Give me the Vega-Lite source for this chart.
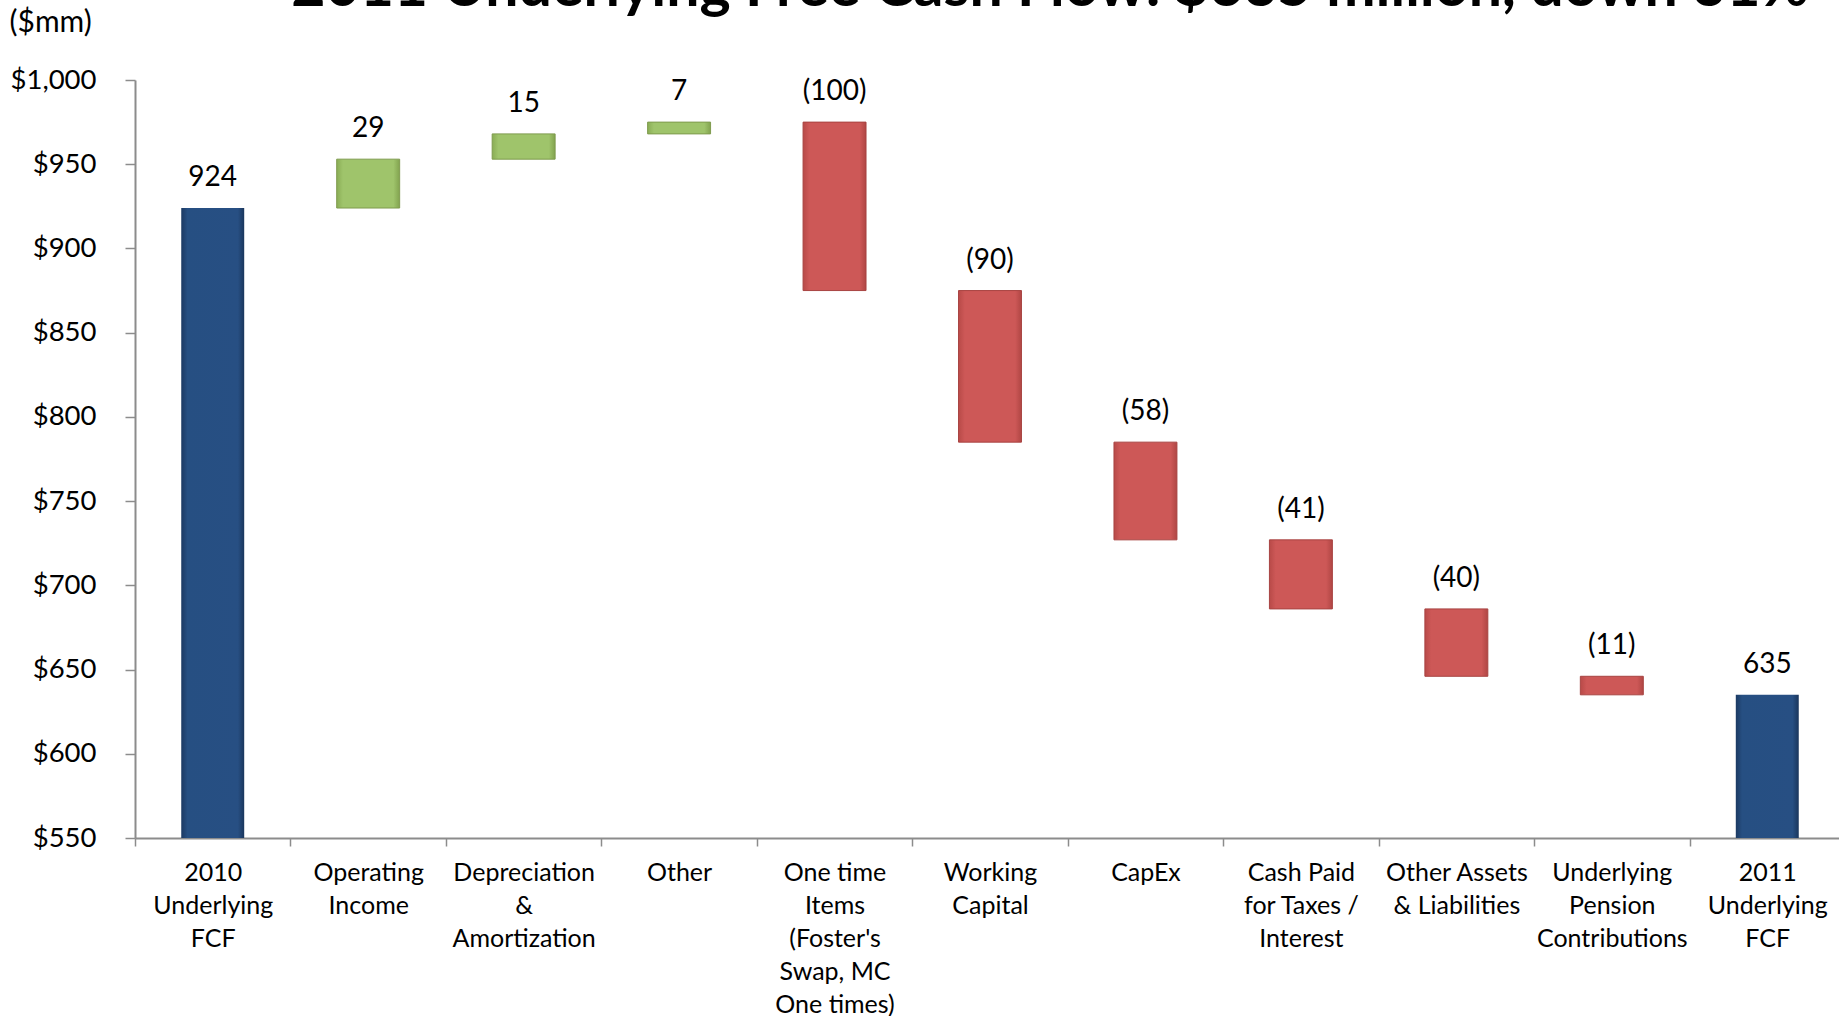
{
  "$schema": "https://vega.github.io/schema/vega-lite/v6.json",
  "width": 1710,
  "height": 758,
  "autosize": {"type": "none"},
  "padding": {"left": 135, "top": 80, "right": 0, "bottom": 178},
  "background": "white",
  "config": {
    "font": "Lato",
    "view": {"stroke": null},
    "axis": {"grid": false}
  },
  "title": {
    "text": "2011 Underlying Free Cash Flow: $635 million, down 31%",
    "font": "Lato",
    "fontSize": 59,
    "fontWeight": "bold",
    "color": "#000000",
    "anchor": "middle",
    "dx": 60,
    "offset": -11
  },
  "data": {
    "values": [
      {"category": "2010|Underlying|FCF", "type": "total", "start": 0, "end": 924, "top": 924, "label": "924"},
      {"category": "Operating|Income", "type": "increase", "start": 924, "end": 953, "top": 953, "label": "29"},
      {"category": "Depreciation|&|Amortization", "type": "increase", "start": 953, "end": 968, "top": 968, "label": "15"},
      {"category": "Other", "type": "increase", "start": 968, "end": 975, "top": 975, "label": "7"},
      {"category": "One time|Items|(Foster's|Swap, MC|One times)", "type": "decrease", "start": 975, "end": 875, "top": 975, "label": "(100)"},
      {"category": "Working|Capital", "type": "decrease", "start": 875, "end": 785, "top": 875, "label": "(90)"},
      {"category": "CapEx", "type": "decrease", "start": 785, "end": 727, "top": 785, "label": "(58)"},
      {"category": "Cash Paid|for Taxes /|Interest", "type": "decrease", "start": 727, "end": 686, "top": 727, "label": "(41)"},
      {"category": "Other Assets|& Liabilities", "type": "decrease", "start": 686, "end": 646, "top": 686, "label": "(40)"},
      {"category": "Underlying|Pension|Contributions", "type": "decrease", "start": 646, "end": 635, "top": 646, "label": "(11)"},
      {"category": "2011|Underlying|FCF", "type": "total", "start": 0, "end": 635, "top": 635, "label": "635"}
    ]
  },
  "encoding": {
    "x": {
      "field": "category",
      "type": "nominal",
      "sort": null,
      "scale": {
        "domain": [
          "2010|Underlying|FCF",
          "Operating|Income",
          "Depreciation|&|Amortization",
          "Other",
          "One time|Items|(Foster's|Swap, MC|One times)",
          "Working|Capital",
          "CapEx",
          "Cash Paid|for Taxes /|Interest",
          "Other Assets|& Liabilities",
          "Underlying|Pension|Contributions",
          "2011|Underlying|FCF"
        ],
        "paddingInner": 0,
        "paddingOuter": 0
      },
      "axis": {
        "title": null,
        "labelAngle": 0,
        "labelExpr": "split(datum.label, '|')",
        "labelFont": "Lato",
        "labelFontSize": 25,
        "labelLineHeight": 33,
        "labelColor": "#000000",
        "labelPadding": 14,
        "labelLimit": 200,
        "tickBand": "extent",
        "tickSize": 8,
        "tickColor": "#8c8c8c",
        "tickWidth": 1.5,
        "domainColor": "#8c8c8c",
        "domainWidth": 2
      }
    }
  },
  "layer": [
    {
      "transform": [{"filter": "datum.type === 'total'"}],
      "mark": {
        "type": "bar",
        "clip": true,
        "width": {"band": 0.405},
        "color": {
          "gradient": "linear", "x1": 0, "x2": 1, "y1": 0, "y2": 0,
          "stops": [
            {"offset": 0, "color": "#1c3a63"},
            {"offset": 0.1, "color": "#264f82"},
            {"offset": 0.9, "color": "#274f83"},
            {"offset": 1, "color": "#1a365c"}
          ]
        }
      },
      "encoding": {
        "y": {
          "field": "end", "type": "quantitative",
          "scale": {"domain": [550, 1000], "nice": false, "zero": false},
          "axis": {
            "values": [550, 600, 650, 700, 750, 800, 850, 900, 950, 1000],
            "format": "$,.0f",
            "labelFont": "Lato",
            "labelFontSize": 27.5,
            "labelColor": "#000000",
            "labelPadding": 29,
            "tickSize": 10,
            "tickColor": "#8c8c8c",
            "tickWidth": 1.5,
            "domainColor": "#8c8c8c",
            "domainWidth": 2,
            "title": "($mm)",
            "titleAngle": 0,
            "titleX": -126,
            "titleY": -58,
            "titleAlign": "left",
            "titleBaseline": "middle",
            "titleFont": "Lato",
            "titleFontSize": 30,
            "titleFontWeight": "normal",
            "titleColor": "#000000"
          }
        },
        "y2": {"field": "start"}
      }
    },
    {
      "transform": [{"filter": "datum.type === 'increase'"}],
      "mark": {
        "type": "bar",
        "clip": true,
        "width": {"band": 0.405},
        "stroke": "#7f9b4e",
        "strokeWidth": 1,
        "color": {
          "gradient": "linear", "x1": 0, "x2": 1, "y1": 0, "y2": 0,
          "stops": [
            {"offset": 0, "color": "#8aad55"},
            {"offset": 0.1, "color": "#9fc46b"},
            {"offset": 0.9, "color": "#9fc46b"},
            {"offset": 1, "color": "#82a34f"}
          ]
        }
      },
      "encoding": {
        "y": {"field": "end", "type": "quantitative"},
        "y2": {"field": "start"}
      }
    },
    {
      "transform": [{"filter": "datum.type === 'decrease'"}],
      "mark": {
        "type": "bar",
        "clip": true,
        "width": {"band": 0.405},
        "stroke": "#a84442",
        "strokeWidth": 1,
        "color": {
          "gradient": "linear", "x1": 0, "x2": 1, "y1": 0, "y2": 0,
          "stops": [
            {"offset": 0, "color": "#b84a48"},
            {"offset": 0.1, "color": "#cd5857"},
            {"offset": 0.9, "color": "#cd5857"},
            {"offset": 1, "color": "#b04644"}
          ]
        }
      },
      "encoding": {
        "y": {"field": "start", "type": "quantitative"},
        "y2": {"field": "end"}
      }
    },
    {
      "mark": {"type": "text", "baseline": "middle", "dy": -30, "fontSize": 28, "font": "Lato", "color": "#000000"},
      "encoding": {
        "y": {"field": "top", "type": "quantitative"},
        "text": {"field": "label"}
      }
    }
  ]
}
